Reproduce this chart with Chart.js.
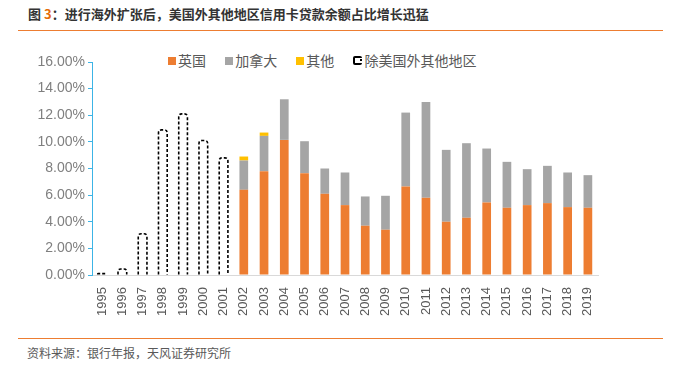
<!DOCTYPE html>
<html lang="zh">
<head>
  <meta charset="UTF-8">
  <title>图3 美国外其他地区信用卡贷款余额占比</title>
  <script src="https://cdn.jsdelivr.net/npm/chart.js"></script>
  <style>
    body {
      margin: 0;
      width: 690px;
      height: 389px;
      background: #fff;
      overflow: hidden;
      position: relative;
      font-family: 'Noto Sans CJK SC', 'Liberation Sans', sans-serif;
    }
    #title {
      position: absolute;
      left: 28px;
      top: 4px;
      font-size: 13px;
      font-weight: bold;
      color: #333;
      white-space: nowrap;
    }
    #title .num { color: #e46c0a; }
    .rule {
      position: absolute;
      left: 18px;
      width: 645px;
      height: 1px;
      background: #ed7d31;
    }
    #legend {
      position: absolute;
      left: 168px;
      top: 50px;
      font-size: 14px;
      color: #595959;
      white-space: nowrap;
    }
    #legend span.item { margin-right: 16px; }
    #legend i {
      display: inline-block;
      width: 8px;
      height: 8px;
      margin-right: 2px;
      vertical-align: 1px;
    }
    #legend i.dash {
      width: 5px;
      height: 5px;
      border: 2px solid #000;
      border-radius: 2px;
      border-right-style: dotted;
      background: #fff;
    }
    #chartBox {
      position: absolute;
      left: 0;
      top: 41px;
      width: 690px;
      height: 290px;
    }
    #source {
      position: absolute;
      left: 27px;
      top: 344px;
      font-size: 12px;
      color: #595959;
    }
  </style>
</head>
<body>
  <div id="title">图 <span class="num">3</span>：进行海外扩张后，美国外其他地区信用卡贷款余额占比增长迅猛</div>
  <div class="rule" style="top:30px"></div>

  <div id="legend">
    <span class="item"><i style="background:#ed7d31"></i>英国</span>
    <span class="item"><i style="background:#a5a5a5"></i>加拿大</span>
    <span class="item"><i style="background:#ffc000"></i>其他</span>
    <span class="item"><i class="dash"></i>除美国外其他地区</span>
  </div>

  <div id="chartBox"><canvas id="chart"></canvas></div>

  <div class="rule" style="top:338px"></div>
  <div id="source">资料来源：银行年报，天风证券研究所</div>

  <script>
    // years and shares (%)
    const years = ['1995','1996','1997','1998','1999','2000','2001','2002','2003','2004','2005','2006',
                   '2007','2008','2009','2010','2011','2012','2013','2014','2015','2016','2017','2018','2019'];
    const ukShare     = [null,null,null,null,null,null,null,6.4,7.8,10.15,7.65,6.1,5.25,3.7,3.4,6.65,5.8,4.0,4.3,5.45,5.05,5.25,5.4,5.1,5.05];
    const canadaShare = [null,null,null,null,null,null,null,2.2,2.65,3.05,2.4,1.9,2.45,2.2,2.55,5.55,7.2,5.4,5.6,4.05,3.45,2.7,2.8,2.6,2.45];
    const otherShare  = [null,null,null,null,null,null,null,0.3,0.25,0,0,0,0,0,0,0,0,0,0,0,0,0,0,0,0];
    const nonUsShare  = [0.1,0.45,3.1,10.9,12.1,10.1,8.8,null,null,null,null,null,null,null,null,null,null,null,null,null,null,null,null,null,null];

    // dashed outline for the 除美国外其他地区 bars (Chart.js bars have no borderDash)
    const dashedBars = {
      id: 'dashedBars',
      afterDatasetsDraw(chart) {
        const meta = chart.getDatasetMeta(3);
        const ctx = chart.ctx;
        ctx.save();
        ctx.strokeStyle = '#000';
        ctx.lineWidth = 1.6;
        ctx.setLineDash([3, 2]);
        meta.data.forEach((bar, i) => {
          if (nonUsShare[i] == null) return;
          const p = bar.getProps(['x', 'y', 'base', 'width'], true);
          const l = p.x - p.width / 2, r = p.x + p.width / 2;
          const rad = Math.min(3, (p.base - p.y) / 2);
          ctx.beginPath();
          ctx.moveTo(l, p.base);
          ctx.lineTo(l, p.y + rad);
          ctx.quadraticCurveTo(l, p.y, l + rad, p.y);
          ctx.lineTo(r - rad, p.y);
          ctx.quadraticCurveTo(r, p.y, r, p.y + rad);
          ctx.lineTo(r, p.base);
          ctx.stroke();
        });
        ctx.restore();
      }
    };

    const ctx = document.getElementById('chart').getContext('2d');
    new Chart(ctx, {
      type: 'bar',
      data: {
        labels: years,
        datasets: [
          { label: '英国', data: ukShare, backgroundColor: '#ed7d31' },
          { label: '加拿大', data: canadaShare, backgroundColor: '#a5a5a5' },
          { label: '其他', data: otherShare, backgroundColor: '#ffc000' },
          { label: '除美国外其他地区', data: nonUsShare, backgroundColor: 'rgba(255,255,255,0)' }
        ]
      },
      options: {
        responsive: true,
        maintainAspectRatio: false,
        animation: false,
        datasets: { bar: { categoryPercentage: 1, barPercentage: 0.43, borderWidth: 0 } },
        layout: { padding: { left: 20, right: 92, top: 21, bottom: 0 } },
        plugins: { legend: { display: false }, tooltip: { enabled: false } },
        scales: {
          x: {
            stacked: true,
            grid: { display: false },
            border: { color: '#d9d9d9' },
            ticks: {
              color: '#595959',
              font: { family: 'Liberation Sans', size: 13 },
              minRotation: 90,
              maxRotation: 90,
              autoSkip: false,
              padding: 4
            },
            afterFit(scale) { scale.height = 56; }
          },
          y: {
            stacked: true,
            min: 0,
            max: 16,
            grid: { drawOnChartArea: false, color: '#3cb4e6', tickLength: 4 },
            border: { color: '#3cb4e6' },
            ticks: {
              stepSize: 2,
              color: '#7f7f7f',
              font: { family: 'Liberation Sans', size: 14 },
              padding: 3,
              callback: v => v.toFixed(2) + '%'
            },
            afterFit(scale) { scale.width = 72; }
          }
        }
      },
      plugins: [dashedBars]
    });
  </script>
</body>
</html>
